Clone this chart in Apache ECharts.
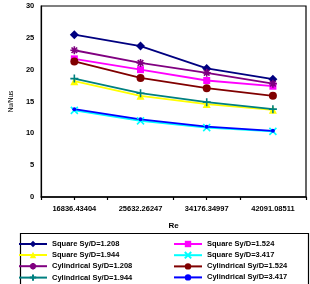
<!DOCTYPE html>
<html>
<head>
<meta charset="utf-8">
<script src="https://cdn.jsdelivr.net/npm/echarts@6/dist/echarts.min.js"></script>
<style>
html,body{margin:0;padding:0;background:#fff;}
#main{width:310px;height:284px;}
</style>
</head>
<body>
<div id="main"></div>
<script>
var categories = ['16836.43404', '25632.26247', '34176.34997', '42091.08511'];

var squareSy1208 = [25.5, 23.7, 20.2, 18.5];
var squareSy1524 = [21.7, 20.0, 18.3, 17.4];
var squareSy1944 = [18.2, 15.9, 14.6, 13.7];
var squareSy3417 = [13.6, 11.95, 10.9, 10.3];
var cylSy1208 = [23.05, 21.05, 19.5, 17.8];
var cylSy1524 = [21.3, 18.7, 17.1, 15.9];
var cylSy1944 = [18.6, 16.3, 14.9, 13.8];
var cylSy3417 = [13.8, 12.2, 11.05, 10.4];

var yTicks = [0, 5, 10, 15, 20, 25, 30];

var xPath = 'path://M0,0L10,10M10,0L0,10';
var starPath = 'path://M5,0L5,10M0,5L10,5M1.5,1.5L8.5,8.5M8.5,1.5L1.5,8.5';
var plusPath = 'path://M5,0L5,10M0,5L10,5';

function mk(name, data, color, symbol, size, stroke) {
    return {
        name: name,
        type: 'line',
        data: data,
        symbol: symbol,
        symbolSize: size,
        lineStyle: {color: color, width: 1.8},
        itemStyle: {color: color, borderColor: color, borderWidth: stroke ? 1.6 : 0},
        emphasis: {disabled: true},
        animation: false
    };
}

var seriesList = [
    mk('Square Sy/D=1.208', squareSy1208, '#000080', 'diamond', 9),
    mk('Square Sy/D=1.524', squareSy1524, '#ff00ff', 'rect', 7),
    mk('Square Sy/D=1.944', squareSy1944, '#ffff00', 'triangle', 8),
    mk('Square Sy/D=3.417', squareSy3417, '#00ffff', xPath, 7, true),
    mk('Cylindrical Sy/D=1.208', cylSy1208, '#800080', starPath, 8, true),
    mk('Cylindrical Sy/D=1.524', cylSy1524, '#800000', 'circle', 8),
    mk('Cylindrical Sy/D=1.944', cylSy1944, '#008080', plusPath, 8, true),
    mk('Cylindrical Sy/D=3.417', cylSy3417, '#0000ff', 'circle', 4)
];

var lf = {fontSize: 7.5, fontWeight: 'bold', fontFamily: 'Liberation Sans', color: '#000'};

var myChart = echarts.init(document.getElementById('main'), null, {renderer: 'canvas'});

var option = {
    backgroundColor: '#fff',
    animation: false,
    grid: {left: 26, right: 4, top: 6, bottom: 87, show: true, borderColor: '#000', borderWidth: 1.2},
    legend: [
        {
            orient: 'vertical', left: 18, top: 240, itemGap: 3,
            itemWidth: 28, itemHeight: 8,
            data: ['Square Sy/D=1.208', 'Square Sy/D=1.944', 'Cylindrical Sy/D=1.208', 'Cylindrical Sy/D=1.944'],
            textStyle: lf, padding: 0
        },
        {
            orient: 'vertical', left: 173, top: 240, itemGap: 3,
            itemWidth: 28, itemHeight: 8,
            data: ['Square Sy/D=1.524', 'Square Sy/D=3.417', 'Cylindrical Sy/D=1.524', 'Cylindrical Sy/D=3.417'],
            textStyle: lf, padding: 0
        }
    ],
    graphic: [
        {type: 'rect', left: 18, top: 231, shape: {width: 288, height: 52},
         style: {fill: 'none', stroke: '#000', lineWidth: 1.2}, silent: true}
    ],
    xAxis: [
        {
            type: 'category', data: categories, boundaryGap: true,
            name: 'Re', nameLocation: 'middle', nameGap: 25,
            nameTextStyle: {fontSize: 8, fontWeight: 'bold', fontFamily: 'Liberation Sans', color: '#000'},
            axisLine: {lineStyle: {color: '#000', width: 1.5}},
            axisTick: {show: true, length: 3, inside: false, lineStyle: {color: '#000', width: 1.2}},
            axisLabel: {fontSize: 7.5, fontWeight: 'bold', fontFamily: 'Liberation Sans', color: '#000', margin: 8}
        },
        {
            type: 'category', data: categories, boundaryGap: true, position: 'bottom',
            axisLine: {show: false},
            axisTick: {show: true, alignWithLabel: true, length: 3, lineStyle: {color: '#000', width: 1.2}},
            axisLabel: {show: false}
        }
    ],
    yAxis: {
        type: 'value', min: yTicks[0], max: yTicks[yTicks.length - 1], interval: 5,
        name: 'Nu/Nus', nameLocation: 'middle', nameGap: 15,
        nameTextStyle: {fontSize: 6.5, fontFamily: 'Liberation Sans', color: '#000'},
        axisLine: {show: true, lineStyle: {color: '#000', width: 1.2}},
        axisTick: {show: false},
        splitLine: {show: false},
        axisLabel: {fontSize: 7.5, fontWeight: 'bold', fontFamily: 'Liberation Sans', color: '#000', margin: 7}
    },
    series: seriesList
};

myChart.setOption(option);
</script>
</body>
</html>
